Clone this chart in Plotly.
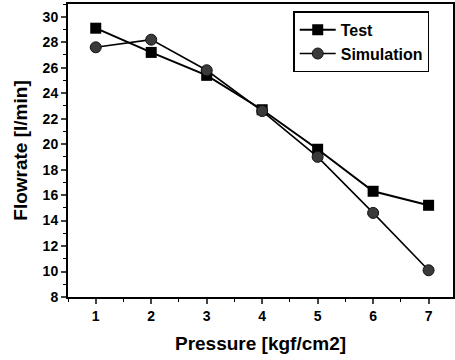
import plotly.graph_objects as go

pressure = [1, 2, 3, 4, 5, 6, 7]
test_flow = [29.1, 27.2, 25.4, 22.7, 19.6, 16.3, 15.2]
sim_flow = [27.6, 28.2, 25.8, 22.6, 19.0, 14.6, 10.1]

fig = go.Figure()
fig.add_trace(go.Scatter(x=pressure, y=test_flow, name="Test", mode="lines+markers",
                         line=dict(color="black", width=2),
                         marker=dict(symbol="square", size=11, color="black")))
fig.add_trace(go.Scatter(x=pressure, y=sim_flow, name="Simulation", mode="lines+markers",
                         line=dict(color="black", width=1.6),
                         marker=dict(symbol="circle", size=11, color="#3a3a3a",
                                     line=dict(color="#111", width=1))))

font = dict(family="Liberation Sans, Arial, sans-serif", color="black")
fig.update_layout(
    width=455, height=360,
    margin=dict(l=68, r=2, t=4, b=63, autoexpand=False),
    paper_bgcolor="white", plot_bgcolor="white",
    font=font,
    legend=dict(x=0.585, y=0.975, xanchor="left", yanchor="top",
                bordercolor="black", borderwidth=1.5, bgcolor="white",
                font=dict(size=16, family="Liberation Sans, Arial, sans-serif", weight="bold"),
                tracegroupgap=0, itemwidth=36),
    xaxis=dict(range=[0.5, 7.44], tickvals=pressure, ticks="outside", ticklen=5, tickwidth=1.5,
               showline=True, linecolor="black", linewidth=2, mirror=True, showgrid=False, zeroline=False,
               automargin=False,
               minor=dict(dtick=0.5, tick0=0.5, ticks="outside", ticklen=3, tickcolor="black", tickwidth=1),
               tickfont=dict(size=14, weight="bold"),
               title=dict(text="Pressure [kgf/cm2]", font=dict(size=19, weight="bold"), standoff=14)),
    yaxis=dict(range=[8, 31], tickvals=list(range(8, 31, 2)), ticks="outside", ticklen=5, tickwidth=1.5,
               showline=True, linecolor="black", linewidth=2, mirror=True, showgrid=False, zeroline=False,
               automargin=False,
               minor=dict(dtick=1, tick0=0, ticks="outside", ticklen=3, tickcolor="black", tickwidth=1),
               tickfont=dict(size=14, weight="bold"),
               title=dict(text="Flowrate [l/min]", font=dict(size=19, weight="bold"), standoff=10)),
)
fig.write_html("out.html", config={"displayModeBar": False},
               post_script="document.body.style.margin='0';")
